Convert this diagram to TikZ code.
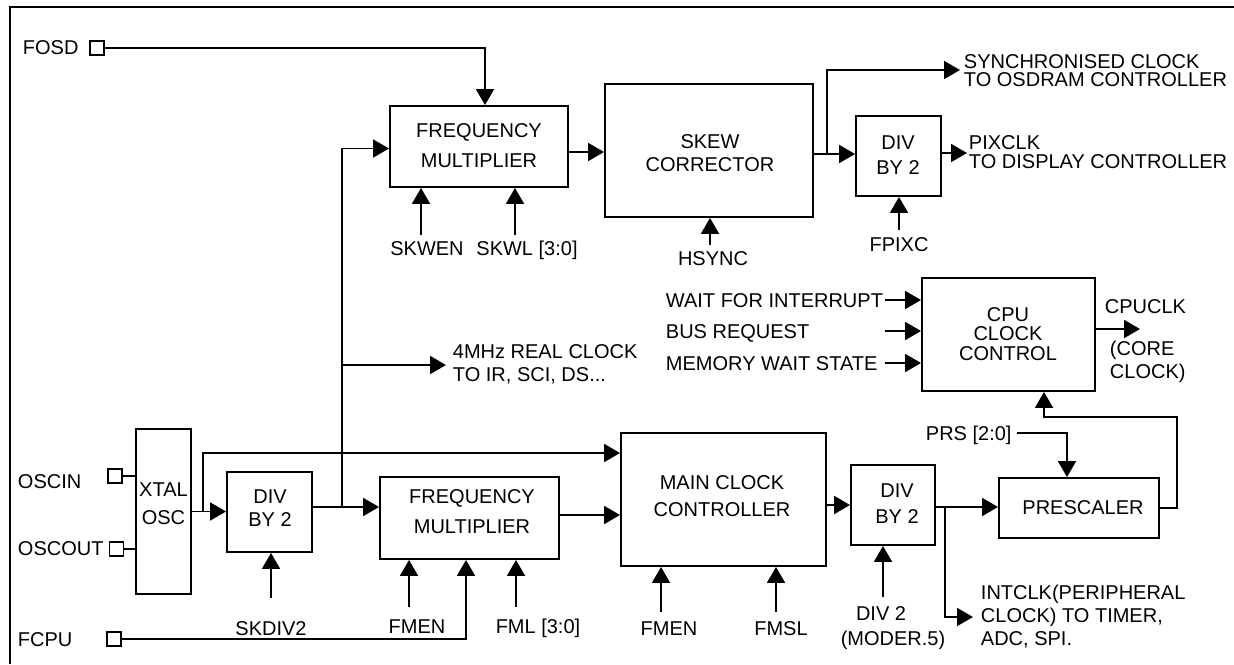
\documentclass[tikz,border=0pt]{standalone}
\usepackage{fontspec}
\setmainfont{Liberation Sans}
\usetikzlibrary{arrows.meta}
\begin{document}
\begin{tikzpicture}[x=1pt,y=-1pt,line width=1.9pt,
  font=\fontsize{20}{23}\selectfont,
  box/.style={draw,inner sep=0pt},
  pin/.style={draw,minimum size=14pt,inner sep=0pt},
  lab/.style={inner sep=0pt,text height=14.4pt,text depth=0pt},
  mlab/.style={inner sep=0pt},
  arr/.style={-{Triangle[length=16pt,width=18pt]}}]
\useasboundingbox (0,0) rectangle (1234,664);
% frame
\draw[line width=2.6pt] (10,664) -- (10,7) -- (1234,7);

% ---------- boxes ----------
\node[box,minimum width=178pt,minimum height=81pt] (fm1) at (479,146.5) {};
\node[mlab,align=center,font=\fontsize{20}{30}\selectfont] (fm1t) at (479,146) {FREQUENCY\\MULTIPLIER};
\node[box,minimum width=208pt,minimum height=133pt] (skew) at (709,150.5) {};
\node[mlab,align=center,font=\fontsize{20}{23}\selectfont] (skewt) at (710,153.5) {SKEW\\CORRECTOR};
\node[box,minimum width=85pt,minimum height=80pt] (divt) at (898.5,156) {};
\node[mlab,align=center,font=\fontsize{20}{25}\selectfont] (divtt) at (898,155.5) {DIV\\BY 2};
\node[box,minimum width=173pt,minimum height=113pt] (cpu) at (1008.5,334.5) {};
\node[mlab,align=center,font=\fontsize{20}{19.5}\selectfont] (cput) at (1008,334) {CPU\\CLOCK\\CONTROL};
\node[box,minimum width=55pt,minimum height=165pt] (xtal) at (163.5,511.5) {};
\node[mlab,align=center,font=\fontsize{20}{28}\selectfont] (xtalt) at (163.5,504) {XTAL\\OSC};
\node[box,minimum width=85pt,minimum height=80pt] (div1) at (269.5,512) {};
\node[mlab,align=center,font=\fontsize{20}{23}\selectfont] (div1t) at (270,508.5) {DIV\\BY 2};
\node[box,minimum width=179pt,minimum height=82pt] (fm2) at (469.5,518) {};
\node[mlab,align=center,font=\fontsize{20}{30}\selectfont] (fm2t) at (472,512) {FREQUENCY\\MULTIPLIER};
\node[box,minimum width=205pt,minimum height=133pt] (mcc) at (723.5,499.5) {};
\node[mlab,align=center,font=\fontsize{20}{27}\selectfont] (mcct) at (722,496.5) {MAIN CLOCK\\CONTROLLER};
\node[box,minimum width=84pt,minimum height=80pt] (divb) at (893,505) {};
\node[mlab,align=center,font=\fontsize{20}{26}\selectfont] (divbt) at (897,504) {DIV\\BY 2};
\node[box,minimum width=160pt,minimum height=60pt] (pre) at (1079,508) {};
\node[lab] (pret) at (1083,507) {PRESCALER};

% ---------- pins ----------
\node[pin] (fosdpin) at (97,48) {};
\node[pin] (oscinpin) at (115,476) {};
\node[pin] (oscoutpin) at (116.5,549) {};
\node[pin] (fcpupin) at (114,639) {};

% ---------- labels ----------
\node[lab,anchor=west] (fosd) at (22,47) {FOSD};
\node[lab,anchor=west] (oscin) at (17,481) {OSCIN};
\node[lab,anchor=west] (oscout) at (17,548) {OSCOUT};
\node[lab,anchor=west] (fcpu) at (17,639) {FCPU};
\node[lab] (skwen) at (427,248) {SKWEN};
\node[lab] (skwl) at (527,248) {SKWL [3:0]};
\node[lab] (hsync) at (713,258) {HSYNC};
\node[lab] (fpixc) at (899,244) {FPIXC};
\node[mlab,anchor=west,align=left,font=\fontsize{20}{18}\selectfont] (sync) at (963,71) {SYNCHRONISED CLOCK\\TO OSDRAM CONTROLLER};
\node[mlab,anchor=west,align=left,font=\fontsize{20}{19}\selectfont] (pix) at (968,152.5) {PIXCLK\\TO DISPLAY CONTROLLER};
\node[lab,anchor=west] (wait) at (665,300) {WAIT FOR INTERRUPT};
\node[lab,anchor=west] (bus) at (665,331) {BUS REQUEST};
\node[lab,anchor=west] (mem) at (665,363) {MEMORY WAIT STATE};
\node[lab,anchor=west] (cpuclk) at (1104,306) {CPUCLK};
\node[mlab,anchor=west,align=left,font=\fontsize{20}{23}\selectfont] (core) at (1109,362) {(CORE\\CLOCK)};
\node[mlab,anchor=west,align=left,font=\fontsize{20}{23}\selectfont] (fourm) at (452,364) {4MHz REAL CLOCK\\TO IR, SCI, DS...};
\node[lab,anchor=west] (prs) at (925,433) {PRS [2:0]};
\node[mlab,anchor=west,align=left,font=\fontsize{20}{23}\selectfont] (intclk) at (980,617) {INTCLK(PERIPHERAL\\CLOCK) TO TIMER,\\ADC, SPI.};
\node[lab] (skdiv2) at (271,628) {SKDIV2};
\node[lab] (fmen1) at (417,626) {FMEN};
\node[lab] (fml) at (538,626) {FML [3:0]};
\node[lab] (fmen2) at (669,628) {FMEN};
\node[lab] (fmsl) at (781,628) {FMSL};
\node[lab] (div2a) at (881,613) {DIV 2};
\node[lab] (div2b) at (893,638) {(MODER.5)};

% ---------- coordinates ----------
\coordinate (j1) at (342,507);
\coordinate (fourtip) at (446,365);
\coordinate (j2) at (827,154);
\coordinate (synctip) at (960,70);
\coordinate (pixtip) at (967,153);
\coordinate (cputip) at (1140,329);
\coordinate (fb) at (1177,417);
\coordinate (j3) at (945,507);
\coordinate (inttip) at (973,617);
\coordinate (waitf) at (885,300);
\coordinate (busf) at (885,331);
\coordinate (memf) at (885,363);
\coordinate (skwenf) at (421,235);
\coordinate (skwlf) at (515,235);
\coordinate (hsyncf) at (710,245);
\coordinate (fpixcf) at (899,230);
\coordinate (skdiv2f) at (271,598);
\coordinate (fmen1f) at (409,607);
\coordinate (fmlf) at (516,607);
\coordinate (fmen2f) at (661,612);
\coordinate (fmslf) at (776,612);
\coordinate (div2f) at (883,597);

% ---------- connectors ----------
\draw[arr] (fosdpin.east) -| ([xshift=6pt]fm1.north);
\draw[arr] ([yshift=-5.5pt]fm1.east) -- ([yshift=-5.5pt]fm1.east -| skew.west);
\draw (skew.east |- j2) -- (j2);
\draw[arr] (j2) -- (j2 -| divt.west);
\draw[arr] (j2) |- (synctip);
\draw[arr] (pixtip -| divt.east) -- (pixtip);
\draw[arr] (skwenf) -- (skwenf |- fm1.south);
\draw[arr] (skwlf) -- (skwlf |- fm1.south);
\draw[arr] (hsyncf) -- (hsyncf |- skew.south);
\draw[arr] (fpixcf) -- (fpixcf |- divt.south);
\draw[arr] (waitf) -- (waitf -| cpu.west);
\draw[arr] (busf) -- (busf -| cpu.west);
\draw[arr] (memf) -- (memf -| cpu.west);
\draw[arr] (cputip -| cpu.east) -- (cputip);

\draw (oscinpin.east) -- (oscinpin.east -| xtal.west);
\draw (oscoutpin.east) -- (oscoutpin.east -| xtal.west);
\draw[arr] (xtal.east) -- (xtal.east -| div1.west);
\draw[arr] ([xshift=11pt]xtal.east) |- ([yshift=46.5pt]mcc.west);
\draw[arr] (j1 -| div1.east) -- (j1 -| fm2.west);
\draw[arr] (j1) |- ([yshift=-2pt]fm1.west);
\draw[arr] (j1 |- fourtip) -- (fourtip);
\draw[arr] ([yshift=3pt]fm2.east) -- ([yshift=3pt]fm2.east -| mcc.west);
\draw[arr] (divb.west -| mcc.east) -- (divb.west);
\draw[arr] (j3 -| divb.east) -- (j3 -| pre.west);
\draw[arr] (j3) |- (inttip);
\draw[arr] ([xshift=4pt]prs.east) -| ([xshift=-12pt]pre.north);
\draw[arr] (pre.east) -| (fb) -| ([xshift=35.5pt]cpu.south);
\draw[arr] (fcpupin.east) -| ([xshift=-3.5pt]fm2.south);
\draw[arr] (skdiv2f) -- (skdiv2f |- div1.south);
\draw[arr] (fmen1f) -- (fmen1f |- fm2.south);
\draw[arr] (fmlf) -- (fmlf |- fm2.south);
\draw[arr] (fmen2f) -- (fmen2f |- mcc.south);
\draw[arr] (fmslf) -- (fmslf |- mcc.south);
\draw[arr] (div2f) -- (div2f |- divb.south);
\end{tikzpicture}
\end{document}
